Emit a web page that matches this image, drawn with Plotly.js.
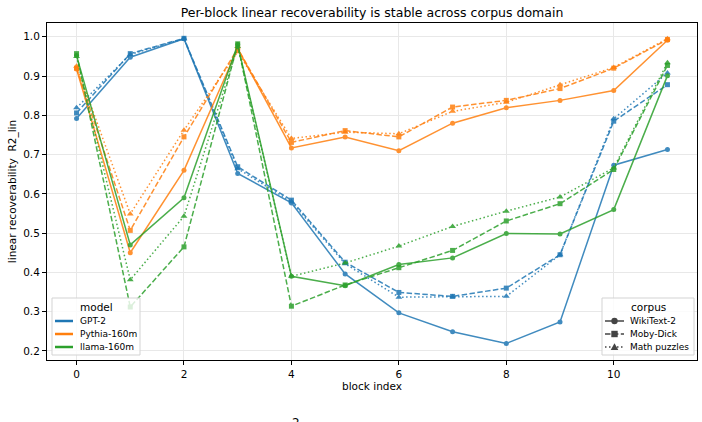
<!DOCTYPE html>
<html>
<head>
<meta charset="utf-8">
<script src="https://cdn.plot.ly/plotly-3.0.1.min.js"></script>
<style>
  html, body { margin: 0; padding: 0; background: #ffffff; }
  #chart { width: 702px; height: 422px; }
</style>
</head>
<body>
<div id="chart"></div>
<script>
// Block indices along the x axis
const blocks = [0, 1, 2, 3, 4, 5, 6, 7, 8, 9, 10, 11];

// Legend labels
const modelNames = ["GPT-2", "Pythia-160m", "llama-160m"];
const corpusNames = ["WikiText-2", "Moby-Dick", "Math puzzles"];

// R2_lin per block, one array per model x corpus
const gpt2Wiki   = [0.792, 0.948, 0.995, 0.652, 0.577, 0.396, 0.297, 0.249, 0.219, 0.274, 0.673, 0.713];
const gpt2Moby   = [0.806, 0.957, 0.996, 0.669, 0.584, 0.426, 0.349, 0.339, 0.360, 0.445, 0.785, 0.878];
const gpt2Math   = [0.819, 0.955, 0.995, 0.664, 0.580, 0.422, 0.337, 0.338, 0.339, 0.445, 0.791, 0.908];

const pythiaWiki = [0.918, 0.450, 0.660, 0.970, 0.717, 0.745, 0.710, 0.780, 0.819, 0.838, 0.863, 0.991];
const pythiaMoby = [0.920, 0.507, 0.745, 0.970, 0.731, 0.761, 0.745, 0.821, 0.838, 0.868, 0.920, 0.993];
const pythiaMath = [0.925, 0.549, 0.762, 0.962, 0.741, 0.757, 0.753, 0.810, 0.833, 0.878, 0.922, 0.995];

const llamaWiki  = [0.952, 0.470, 0.590, 0.980, 0.390, 0.366, 0.420, 0.437, 0.499, 0.498, 0.560, 0.901];
const llamaMoby  = [0.957, 0.312, 0.465, 0.982, 0.314, 0.368, 0.412, 0.456, 0.531, 0.575, 0.662, 0.927];
const llamaMath  = [0.950, 0.381, 0.543, 0.975, 0.390, 0.424, 0.467, 0.517, 0.556, 0.592, 0.666, 0.934];

const modelColors = ["#1f77b4", "#ff7f0e", "#2ca02c"];
const corpusDash = ["solid", "5.5px,2.4px", "1.5px,2.5px"];
const corpusSymbol = ["circle", "square", "triangle-up"];
const corpusSize = [5, 5, 6];

const seriesByModel = [
  [gpt2Wiki, gpt2Moby, gpt2Math],
  [pythiaWiki, pythiaMoby, pythiaMath],
  [llamaWiki, llamaMoby, llamaMath]
];

const traces = [];
seriesByModel.forEach((group, m) => {
  group.forEach((vals, c) => {
    traces.push({
      x: blocks,
      y: vals,
      type: "scatter",
      mode: "lines+markers",
      line: { color: modelColors[m], width: 1.5, dash: corpusDash[c] },
      marker: { color: modelColors[m], symbol: corpusSymbol[c], size: corpusSize[c] },
      opacity: 0.85,
      showlegend: false,
      hoverinfo: "skip"
    });
  });
});

// ---- figure geometry (pixels) ----
const W = 702, H = 422;
const M = { l: 47, r: 5, t: 23, b: 62 };
const plotW = W - M.l - M.r, plotH = H - M.t - M.b;
const px = (x) => (x - M.l) / plotW;          // pixel x -> paper x
const py = (y) => (H - M.b - y) / plotH;      // pixel y -> paper y

const FONT = "DejaVu Sans, sans-serif";
const baseFont = { family: FONT, size: 10.5, color: "#000000" };
const legendFont = { family: FONT, size: 9, color: "#000000" };
const legendTitleFont = { family: FONT, size: 10.5, color: "#000000" };

const shapes = [];
const annotations = [];

// Draws a framed legend: title on top, then one row per entry
function drawLegend(box, title, entries) {
  shapes.push({
    type: "rect", xref: "paper", yref: "paper", layer: "above",
    x0: px(box.x0), x1: px(box.x1), y0: py(box.y1), y1: py(box.y0),
    fillcolor: "rgba(255,255,255,0.8)",
    line: { color: "#d3d3d3", width: 1 }
  });
  annotations.push({
    text: title, xref: "paper", yref: "paper",
    x: px((box.x0 + box.x1) / 2), y: py(box.titleY),
    xanchor: "center", yanchor: "middle", showarrow: false,
    font: legendTitleFont
  });
  entries.forEach((e, i) => {
    const yy = box.rowY[i];
    shapes.push({
      type: "line", xref: "paper", yref: "paper", layer: "above",
      x0: px(box.lineX0), x1: px(box.lineX1), y0: py(yy), y1: py(yy),
      line: { color: e.color, width: e.width, dash: e.dash || "solid" }
    });
    if (e.symbol) {
      const cx = (box.lineX0 + box.lineX1) / 2, r = 3.2;
      if (e.symbol === "circle") {
        shapes.push({
          type: "circle", xref: "paper", yref: "paper", layer: "above",
          x0: px(cx - r), x1: px(cx + r), y0: py(yy + r), y1: py(yy - r),
          fillcolor: e.color, line: { width: 0 }
        });
      } else if (e.symbol === "square") {
        shapes.push({
          type: "rect", xref: "paper", yref: "paper", layer: "above",
          x0: px(cx - r), x1: px(cx + r), y0: py(yy + r), y1: py(yy - r),
          fillcolor: e.color, line: { width: 0 }
        });
      } else {
        const t = 3.8;
        shapes.push({
          type: "path", xref: "paper", yref: "paper", layer: "above",
          path: "M " + px(cx - t) + " " + py(yy + t * 0.8) +
                " L " + px(cx + t) + " " + py(yy + t * 0.8) +
                " L " + px(cx) + " " + py(yy - t) + " Z",
          fillcolor: e.color, line: { width: 0 }
        });
      }
    }
    annotations.push({
      text: e.name, xref: "paper", yref: "paper",
      x: px(box.textX), y: py(yy),
      xanchor: "left", yanchor: "middle", showarrow: false,
      font: legendFont
    });
  });
}

drawLegend(
  { x0: 52, x1: 140, y0: 298, y1: 355, titleY: 306.5, rowY: [321, 334, 347],
    lineX0: 55, lineX1: 73, textX: 78 },
  "model",
  modelNames.map((n, m) => ({ name: n, color: modelColors[m], width: 2.5 }))
);

drawLegend(
  { x0: 602, x1: 694, y0: 298, y1: 355, titleY: 306.5, rowY: [321, 334, 347],
    lineX0: 605, lineX1: 624, textX: 628 },
  "corpus",
  corpusNames.map((n, c) => ({ name: n, color: "#444444", width: 1.5,
                               dash: corpusDash[c], symbol: corpusSymbol[c] }))
);

// Stray glyph along the lower edge of the figure
annotations.push({
  text: "2", xref: "paper", yref: "paper",
  x: px(296), y: py(414),
  xanchor: "center", yanchor: "top", showarrow: false,
  font: { family: FONT, size: 12, color: "#000000" }
});

const layout = {
  width: W,
  height: H,
  margin: M,
  showlegend: false,
  paper_bgcolor: "#ffffff",
  plot_bgcolor: "#ffffff",
  font: baseFont,
  title: {
    text: "Per-block linear recoverability is stable across corpus domain",
    font: { family: FONT, size: 12.5, color: "#000000" },
    x: 0.5, xref: "paper", xanchor: "center",
    y: 1, yref: "container", yanchor: "top", pad: { t: 8 }
  },
  xaxis: {
    range: [-0.55, 11.55],
    tickmode: "array",
    tickvals: [0, 2, 4, 6, 8, 10],
    ticks: "outside", ticklen: 4, tickcolor: "#000000",
    showgrid: true, gridcolor: "#e8e8e8", gridwidth: 1,
    zeroline: false,
    showline: true, linecolor: "#000000", linewidth: 1, mirror: true,
    tickfont: baseFont,
    title: { text: "block index", font: baseFont, standoff: 4 }
  },
  yaxis: {
    range: [0.177, 1.035],
    tickmode: "linear", tick0: 0.2, dtick: 0.1,
    tickformat: ".1f",
    ticks: "outside", ticklen: 4, tickcolor: "#000000",
    showgrid: true, gridcolor: "#e8e8e8", gridwidth: 1,
    zeroline: false,
    showline: true, linecolor: "#000000", linewidth: 1, mirror: true,
    tickfont: baseFont,
    title: { text: "linear recoverability  R2_lin", font: baseFont, standoff: 4 }
  },
  shapes: shapes,
  annotations: annotations
};

Plotly.newPlot("chart", traces, layout, { displayModeBar: false, staticPlot: true });
</script>
</body>
</html>
